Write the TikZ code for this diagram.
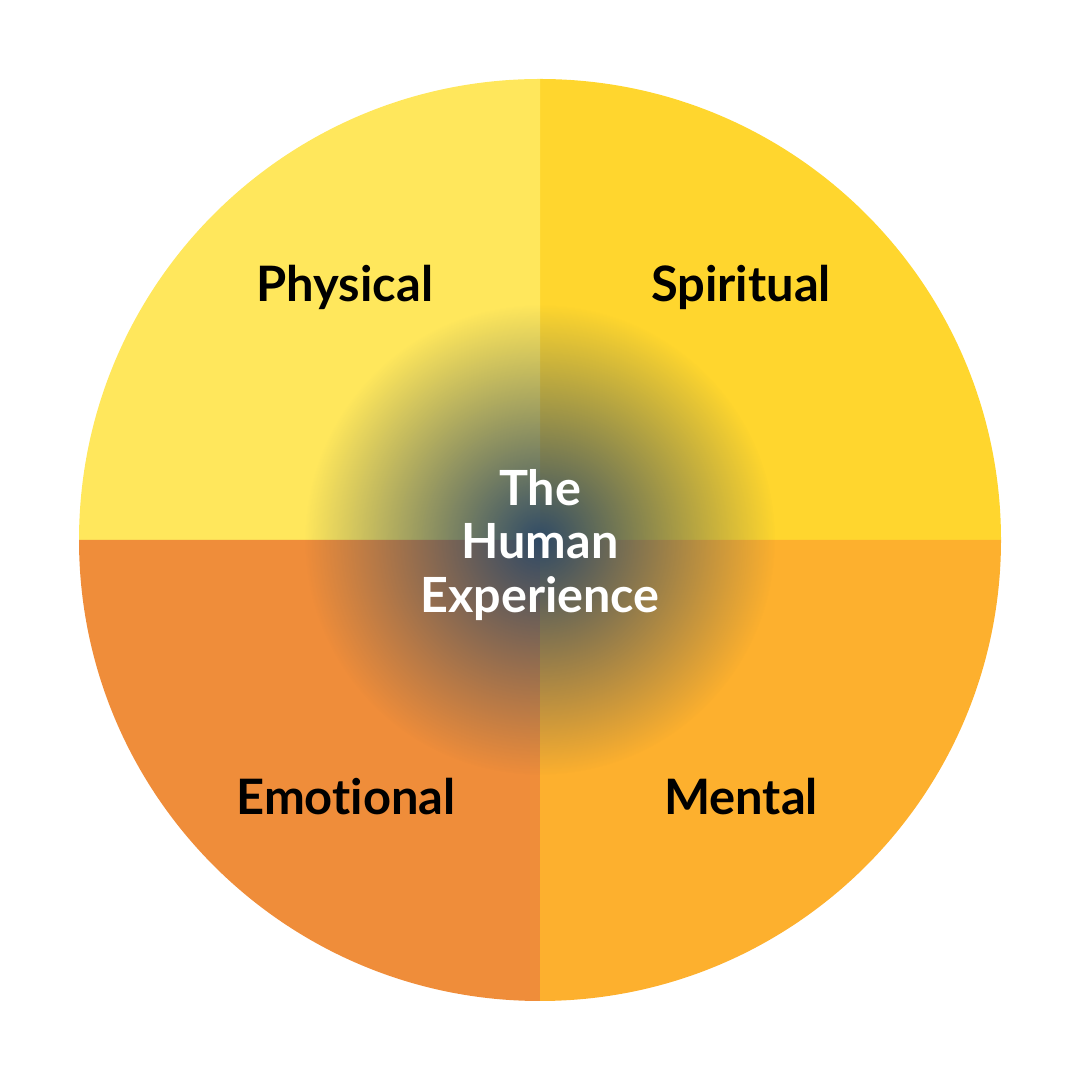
\documentclass[tikz,border=0pt]{standalone}
\usepackage{fontspec}
\setmainfont[Ligatures=NoCommon]{Lato}
\usetikzlibrary{fadings}

\definecolor{physYellow}{RGB}{255,231,92}
\definecolor{spiritYellow}{RGB}{255,214,46}
\definecolor{emoOrange}{RGB}{239,141,58}
\definecolor{mentOrange}{RGB}{253,176,46}
\definecolor{coreBlue}{RGB}{47,74,102}

\tikzfading[name=core fade, inner color=transparent!0, outer color=transparent!100]

\tikzset{
	quadlabel/.style={anchor=base, text=black, font=\fontsize{13.9}{17}\selectfont\bfseries},
	corelabel/.style={align=center, text=white, font=\fontsize{13.8}{15.3}\selectfont\bfseries}
}

\begin{document}
\begin{tikzpicture}
	\useasboundingbox (0,0) rectangle (10.8,10.8);

	\def\quarter#1#2#3{
		\fill[#1] (5.4,5.4) -- ++(#2:4.61) arc (#2:#3:4.61) -- cycle;
	}

	\quarter{spiritYellow}{0}{90};
	\quarter{physYellow}{90}{180};
	\quarter{emoOrange}{180}{270};
	\quarter{mentOrange}{270}{360};

	% glow in the middle
	\fill[coreBlue, path fading=core fade] (5.4,5.4) circle (2.35);

	\node[quadlabel] (physical) at (3.45,7.78) {Physical};
	\node[quadlabel] (spiritual) at (7.41,7.78) {Spiritual};
	\node[quadlabel] (emotional) at (3.46,2.65) {Emotional};
	\node[quadlabel] (mental) at (7.41,2.65) {Mental};

	\node[corelabel] (core) at (5.4,5.35) {The\\Human\\Experience};
\end{tikzpicture}
\end{document}
